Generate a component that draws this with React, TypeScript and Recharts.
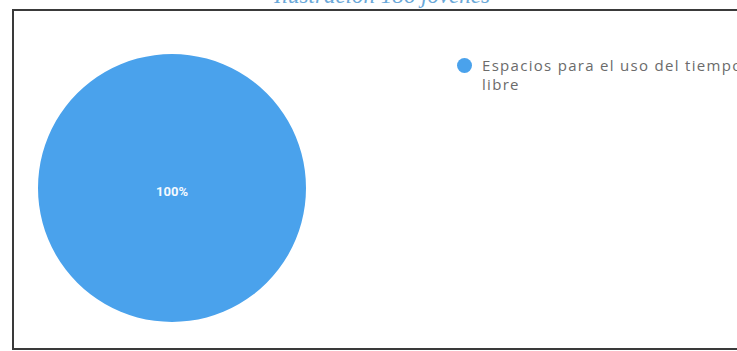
import { PieChart, Pie, Cell, Legend } from 'recharts';

const categories = ['Espacios para el uso del tiempo libre'];
const shares = [100];
const colors = ['#4aa2ec'];
const caption = 'Ilustración 186 jóvenes';

const data = categories.map((name, i) => ({ name, value: shares[i] }));

const renderLabel = ({ cx, cy, percent }: any) => (
  <text
    x={cx}
    y={cy + 3}
    fill="#f4f9ff"
    textAnchor="middle"
    dominantBaseline="central"
    fontSize={13}
    fontWeight={700}
    fontFamily="Roboto, sans-serif"
  >
    {`${Math.round(percent * 100)}%`}
  </text>
);

const renderLegend = ({ payload }: any) => (
  <div>
    {(payload || []).map((entry: any) => (
      <div key={entry.value} style={{ display: 'flex', alignItems: 'flex-start' }}>
        <span
          style={{
            width: 15,
            height: 15,
            borderRadius: '50%',
            background: entry.color,
            marginTop: 2,
            marginRight: 10,
            flex: 'none',
          }}
        />
        <span
          style={{
            width: 272,
            fontSize: 15,
            lineHeight: '19px',
            letterSpacing: 1.3,
            color: '#6b6b6b',
            fontFamily: '"Open Sans", sans-serif',
          }}
        >
          {entry.value}
        </span>
      </div>
    ))}
  </div>
);

export default function App() {
  return (
    <div
      style={{
        position: 'absolute',
        top: 0,
        left: 0,
        width: 737,
        height: 351,
        overflow: 'hidden',
        background: '#fff',
      }}
    >
      <div
        style={{
          position: 'absolute',
          top: -16,
          left: 0,
          width: 764,
          textAlign: 'center',
          fontFamily: '"Liberation Serif", serif',
          fontStyle: 'italic',
          fontSize: 23,
          lineHeight: '23px',
          color: '#6aa8d8',
        }}
      >
        {caption}
      </div>
      <div
        style={{
          position: 'absolute',
          top: 9,
          left: 12,
          width: 760,
          height: 337,
          borderTop: '2px solid #3a3a3a',
          borderLeft: '2px solid #3a3a3a',
          borderBottom: '2px solid #3a3a3a',
        }}
      />
      <div style={{ position: 'absolute', top: 0, left: 0 }}>
        <PieChart width={737} height={351} margin={{ top: 0, right: 0, bottom: 0, left: 0 }}>
          <Pie
            data={data}
            dataKey="value"
            nameKey="name"
            cx={172}
            cy={188}
            outerRadius={134}
            stroke="none"
            label={renderLabel}
            labelLine={false}
            isAnimationActive={false}
          >
            {data.map((d, i) => (
              <Cell key={d.name} fill={colors[i]} />
            ))}
          </Pie>
          <Legend
            layout="vertical"
            verticalAlign="top"
            align="right"
            content={renderLegend}
            wrapperStyle={{ left: 457, top: 56, width: 320, right: 'auto' }}
          />
        </PieChart>
      </div>
    </div>
  );
}
